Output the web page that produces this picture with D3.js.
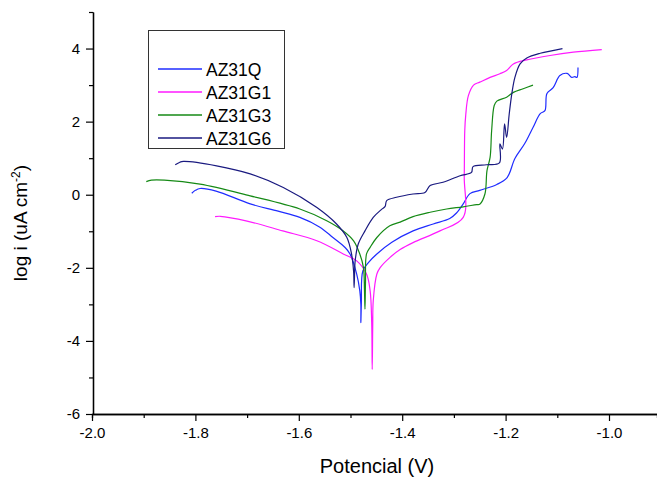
<!DOCTYPE html>
<html>
<head>
<meta charset="utf-8">
<script src="https://cdn.jsdelivr.net/npm/d3@7"></script>
<style>
  body { margin: 0; background: #fff; }
  text { font-family: Arial, "Liberation Sans", sans-serif; fill: #000; }
</style>
</head>
<body>
<div id="chart"></div>
<script>
// series, [potential V, log i]
var seriesNames = ["AZ31Q", "AZ31G1", "AZ31G3", "AZ31G6"];
var seriesColors = ["#1f2cff", "#ff1aff", "#168a16", "#1a1a80"];

var az31q = [[-1.807,0.04],[-1.800,0.12],[-1.791,0.17],[-1.760,0.10],[-1.694,-0.25],[-1.640,-0.45],[-1.598,-0.62],[-1.560,-0.88],
  [-1.534,-1.17],[-1.510,-1.45],[-1.501,-1.62],[-1.488,-2.17],[-1.482,-2.63],[-1.480,-3.0],[-1.480,-3.5],[-1.479,-3.0],
  [-1.476,-2.08],[-1.465,-1.85],[-1.449,-1.62],[-1.420,-1.30],[-1.379,-0.99],[-1.340,-0.80],[-1.308,-0.65],[-1.295,-0.50],
  [-1.282,-0.25],[-1.269,0.03],[-1.250,0.12],[-1.217,0.28],[-1.197,0.47],[-1.182,0.99],[-1.163,1.40],[-1.147,1.84],
  [-1.133,2.22],[-1.124,2.30],[-1.120,2.77],[-1.108,2.93],[-1.095,3.26],[-1.081,3.32],[-1.072,3.21],[-1.066,3.23],
  [-1.062,3.21],[-1.060,3.48]];

var az31g1 = [[-1.762,-0.60],[-1.752,-0.59],[-1.700,-0.72],[-1.631,-0.99],[-1.565,-1.26],[-1.514,-1.62],[-1.488,-1.81],
  [-1.469,-2.17],[-1.462,-2.63],[-1.459,-3.5],[-1.458,-4.78],[-1.457,-3.6],[-1.456,-2.9],[-1.449,-2.17],[-1.443,-2.0],
  [-1.424,-1.72],[-1.404,-1.50],[-1.379,-1.31],[-1.327,-0.99],[-1.282,-0.62],[-1.280,0.5],[-1.279,1.75],[-1.277,2.2],
  [-1.272,2.71],[-1.262,3.0],[-1.250,3.08],[-1.230,3.21],[-1.211,3.31],[-1.198,3.40],[-1.185,3.58],[-1.159,3.69],
  [-1.114,3.81],[-1.069,3.90],[-1.014,3.97]];

var az31g3 = [[-1.895,0.36],[-1.885,0.40],[-1.860,0.40],[-1.791,0.29],[-1.694,-0.03],[-1.598,-0.39],[-1.546,-0.71],
  [-1.514,-0.99],[-1.494,-1.26],[-1.482,-1.62],[-1.475,-1.99],[-1.473,-2.6],[-1.472,-3.13],[-1.471,-2.4],[-1.469,-1.62],
  [-1.462,-1.44],[-1.449,-1.17],[-1.424,-0.85],[-1.404,-0.75],[-1.379,-0.60],[-1.346,-0.48],[-1.314,-0.39],
  [-1.282,-0.33],[-1.256,-0.27],[-1.250,-0.26],[-1.240,0.02],[-1.236,0.66],[-1.230,1.02],[-1.227,1.75],[-1.222,2.44],
  [-1.217,2.56],[-1.198,2.67],[-1.185,2.80],[-1.166,2.90],[-1.147,3.00]];

var az31g6 = [[-1.839,0.82],[-1.830,0.89],[-1.823,0.91],[-1.759,0.79],[-1.694,0.57],[-1.630,0.20],[-1.565,-0.35],
  [-1.527,-0.80],[-1.507,-1.17],[-1.498,-1.62],[-1.494,-2.1],[-1.493,-2.54],[-1.492,-2.1],[-1.491,-1.81],[-1.485,-1.35],
  [-1.472,-0.99],[-1.456,-0.62],[-1.440,-0.40],[-1.433,-0.32],[-1.430,-0.16],[-1.411,-0.07],[-1.379,0.02],
  [-1.356,0.06],[-1.346,0.25],[-1.321,0.34],[-1.288,0.52],[-1.266,0.61],[-1.263,0.77],[-1.237,0.82],[-1.212,0.87],
  [-1.211,1.39],[-1.206,1.25],[-1.202,1.94],[-1.198,1.57],[-1.193,2.21],[-1.188,2.76],[-1.182,3.21],[-1.172,3.58],
  [-1.159,3.74],[-1.133,3.87],[-1.090,4.0]];

var seriesData = [az31q, az31g1, az31g3, az31g6];

var xMajor = [-2.0, -1.8, -1.6, -1.4, -1.2, -1.0];
var xMinor = [-1.9, -1.7, -1.5, -1.3, -1.1];
var yMajor = [-6, -4, -2, 0, 2, 4];
var yMinor = [-5, -3, -1, 1, 3, 5];

var W = 657, H = 477;
var svg = d3.select("#chart").append("svg")
    .attr("width", W).attr("height", H);

var x = d3.scaleLinear().domain([-2.0, -1.0]).range([92, 609]);
var y = d3.scaleLinear().domain([-6, 5]).range([414, 12]);
var xEnd = x.invert(W);
x.domain([-2.0, xEnd]).range([92, W]);

// axes
function styleAxis(g) {
  g.select(".domain").attr("stroke", "#000").attr("stroke-width", 1.3);
  g.selectAll(".tick line").attr("stroke", "#000").attr("stroke-width", 1.2);
  g.selectAll(".tick text").style("font-size", "15px").attr("fill", "#000");
}

svg.append("g").attr("transform", "translate(0,414)")
  .call(d3.axisBottom(x).tickValues(xMinor).tickSize(4).tickFormat(""))
  .call(styleAxis);
svg.append("g").attr("transform", "translate(0,414)")
  .call(d3.axisBottom(x).tickValues(xMajor).tickSize(7).tickSizeOuter(0)
        .tickPadding(6).tickFormat(function(d){ return d.toFixed(1); }))
  .call(styleAxis);

svg.append("g").attr("transform", "translate(93,0)")
  .call(d3.axisLeft(y).tickValues(yMinor).tickSize(4).tickSizeOuter(0).tickFormat(""))
  .call(styleAxis);
svg.append("g").attr("transform", "translate(93,0)")
  .call(d3.axisLeft(y).tickValues(yMajor).tickSize(7).tickSizeOuter(0)
        .tickPadding(6).tickFormat(function(d){ return String(d); }))
  .call(styleAxis);

// curves
var line = d3.line()
    .curve(d3.curveCatmullRom.alpha(0.5))
    .x(function(d){ return x(d[0]); })
    .y(function(d){ return y(d[1]); });

svg.selectAll(".curve")
  .data(seriesData)
  .enter()
  .append("path")
    .attr("class", "curve")
    .attr("d", line)
    .attr("fill", "none")
    .attr("stroke", function(d, i){ return seriesColors[i]; })
    .attr("stroke-width", 1.2)
    .attr("stroke-linejoin", "round");

// legend
svg.append("rect")
  .attr("x", 148.5).attr("y", 30.5)
  .attr("width", 136).attr("height", 118)
  .attr("fill", "none").attr("stroke", "#333").attr("stroke-width", 1);

var leg = svg.selectAll(".leg")
  .data(seriesNames)
  .enter()
  .append("g")
    .attr("class", "leg")
    .attr("transform", function(d, i){ return "translate(158," + (69 + i * 23) + ")"; });
leg.append("line")
  .attr("x1", 0).attr("x2", 44)
  .attr("stroke", function(d, i){ return seriesColors[i]; })
  .attr("stroke-width", 1.3);
leg.append("text")
  .attr("x", 48).attr("y", 6.5)
  .style("font-size", "17.5px")
  .text(function(d){ return d; });

// titles
svg.append("text")
  .attr("x", 377).attr("y", 473)
  .attr("text-anchor", "middle")
  .style("font-size", "20px")
  .text("Potencial (V)");

var yt = svg.append("text")
  .attr("transform", "translate(27,223) rotate(-90)")
  .attr("text-anchor", "middle")
  .style("font-size", "19px");
yt.append("tspan").text("log i (uA cm");
yt.append("tspan").attr("dy", -7).style("font-size", "12px").text("-2");
yt.append("tspan").attr("dy", 7).text(")");
</script>
</body>
</html>
